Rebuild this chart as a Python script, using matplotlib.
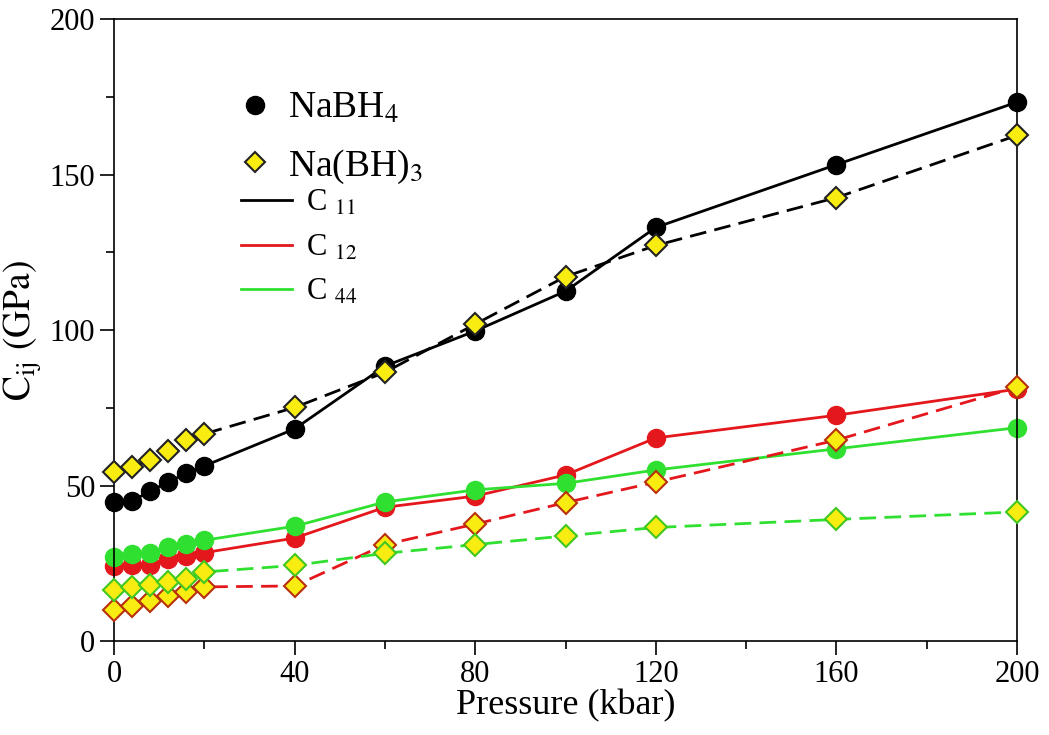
import numpy as np
import matplotlib.pyplot as plt
from matplotlib.lines import Line2D

plt.rcParams['font.family'] = ['Liberation Serif', 'DejaVu Serif']
plt.rcParams['mathtext.fontset'] = 'stix'

# ---------------------------------------------------------------------------
# Data: elastic constants vs pressure
# ---------------------------------------------------------------------------
pressure = [0, 4, 8, 12, 16, 20, 40, 60, 80, 100, 120, 160, 200]

# NaBH4 (circles, solid)
nabh4_c11 = [44.7, 45.0, 48.2, 51.1, 54.0, 56.3, 68.2, 88.4, 99.7, 112.5, 133.0, 153.2, 173.3]
nabh4_c12 = [24.0, 24.3, 24.4, 26.5, 27.2, 28.4, 33.1, 43.0, 46.6, 53.4, 65.3, 72.6, 81.0]
nabh4_c44 = [27.0, 28.0, 28.3, 30.2, 31.2, 32.4, 36.9, 44.7, 48.6, 50.7, 55.0, 61.8, 68.6]

# Na(BH)3 (diamonds, dashed)
nabh3_c11 = [54.3, 56.0, 58.3, 61.1, 64.8, 66.6, 75.1, 86.4, 101.9, 117.2, 127.2, 142.6, 162.6]
nabh3_c12 = [10.0, 11.2, 12.9, 14.5, 15.9, 17.4, 17.7, 31.0, 37.6, 44.5, 51.1, 64.6, 81.6]
nabh3_c44 = [16.4, 17.3, 18.1, 19.0, 20.0, 22.2, 24.3, 28.2, 31.0, 33.8, 36.5, 39.1, 41.5]

RED = '#e4181c'
GREEN = '#30e030'
YELLOW = '#f8ec10'

fig = plt.figure(figsize=(10.49, 7.35), dpi=100)
ax = fig.add_axes([0.1087, 0.1279, 0.8608, 0.8461])

# --- NaBH4: filled circles, solid lines ---
for vals, col in [(nabh4_c11, 'black'), (nabh4_c12, RED), (nabh4_c44, GREEN)]:
    ax.plot(pressure, vals, '-', color=col, lw=2.0, marker='o', ms=13,
            mfc=col, mec=col, zorder=2, clip_on=False)

# --- Na(BH)3: yellow diamonds, dashed lines ---
edges = {'black': '#222222', RED: '#b8300e', GREEN: '#40c820'}
for vals, col in [(nabh3_c11, 'black'), (nabh3_c12, RED), (nabh3_c44, GREEN)]:
    ax.plot(pressure, vals, color=col, lw=2.0, ls=(0, (6, 3)), marker='D', ms=11,
            mfc=YELLOW, mec=edges[col], mew=1.5, zorder=3, clip_on=False)

ax.set_xlim(0, 200)
ax.set_ylim(0, 200)
ax.set_xticks([0, 40, 80, 120, 160, 200])
ax.set_xticks(np.arange(20, 200, 40), minor=True)
ax.set_yticks([0, 50, 100, 150, 200])
ax.set_yticks([25, 75, 125, 175], minor=True)
ax.tick_params(which='major', direction='out', length=10, width=1.2,
               labelsize=22, top=False, right=False)
ax.tick_params(which='minor', direction='out', length=6, width=1.2,
               top=False, right=False)
for s in ax.spines.values():
    s.set_linewidth(1.2)

ax.set_xlabel('Pressure (kbar)', fontsize=26, labelpad=0)
ax.set_ylabel(r'$\mathrm{C_{ij}\ (GPa)}$', fontsize=27, labelpad=4)

# --- Legend: compounds (symbols) ---
sym_handles = [
    Line2D([], [], ls='none', marker='o', ms=13, mfc='black', mec='black'),
    Line2D([], [], ls='none', marker='D', ms=10, mfc=YELLOW, mec='#222222', mew=1.5),
]
leg1 = ax.legend(sym_handles, [r'NaBH$_4$', r'Na(BH)$_3$'], loc='upper left',
                 bbox_to_anchor=(0.137, 0.884), frameon=False, borderpad=0,
                 borderaxespad=0, handlelength=0.9, handletextpad=0.45,
                 labelspacing=0.58, fontsize=27)
ax.add_artist(leg1)

# --- Legend: elastic constants (line colours) ---
line_handles = [Line2D([], [], color=c, lw=2.0) for c in ['black', RED, GREEN]]
ax.legend(line_handles, [r'C $_{11}$', r'C $_{12}$', r'C $_{44}$'], loc='upper left',
          bbox_to_anchor=(0.141, 0.727), frameon=False, borderpad=0,
          borderaxespad=0, handlelength=1.65, handletextpad=0.45,
          labelspacing=0.5, fontsize=22)

fig.savefig('out.png', dpi=100)
